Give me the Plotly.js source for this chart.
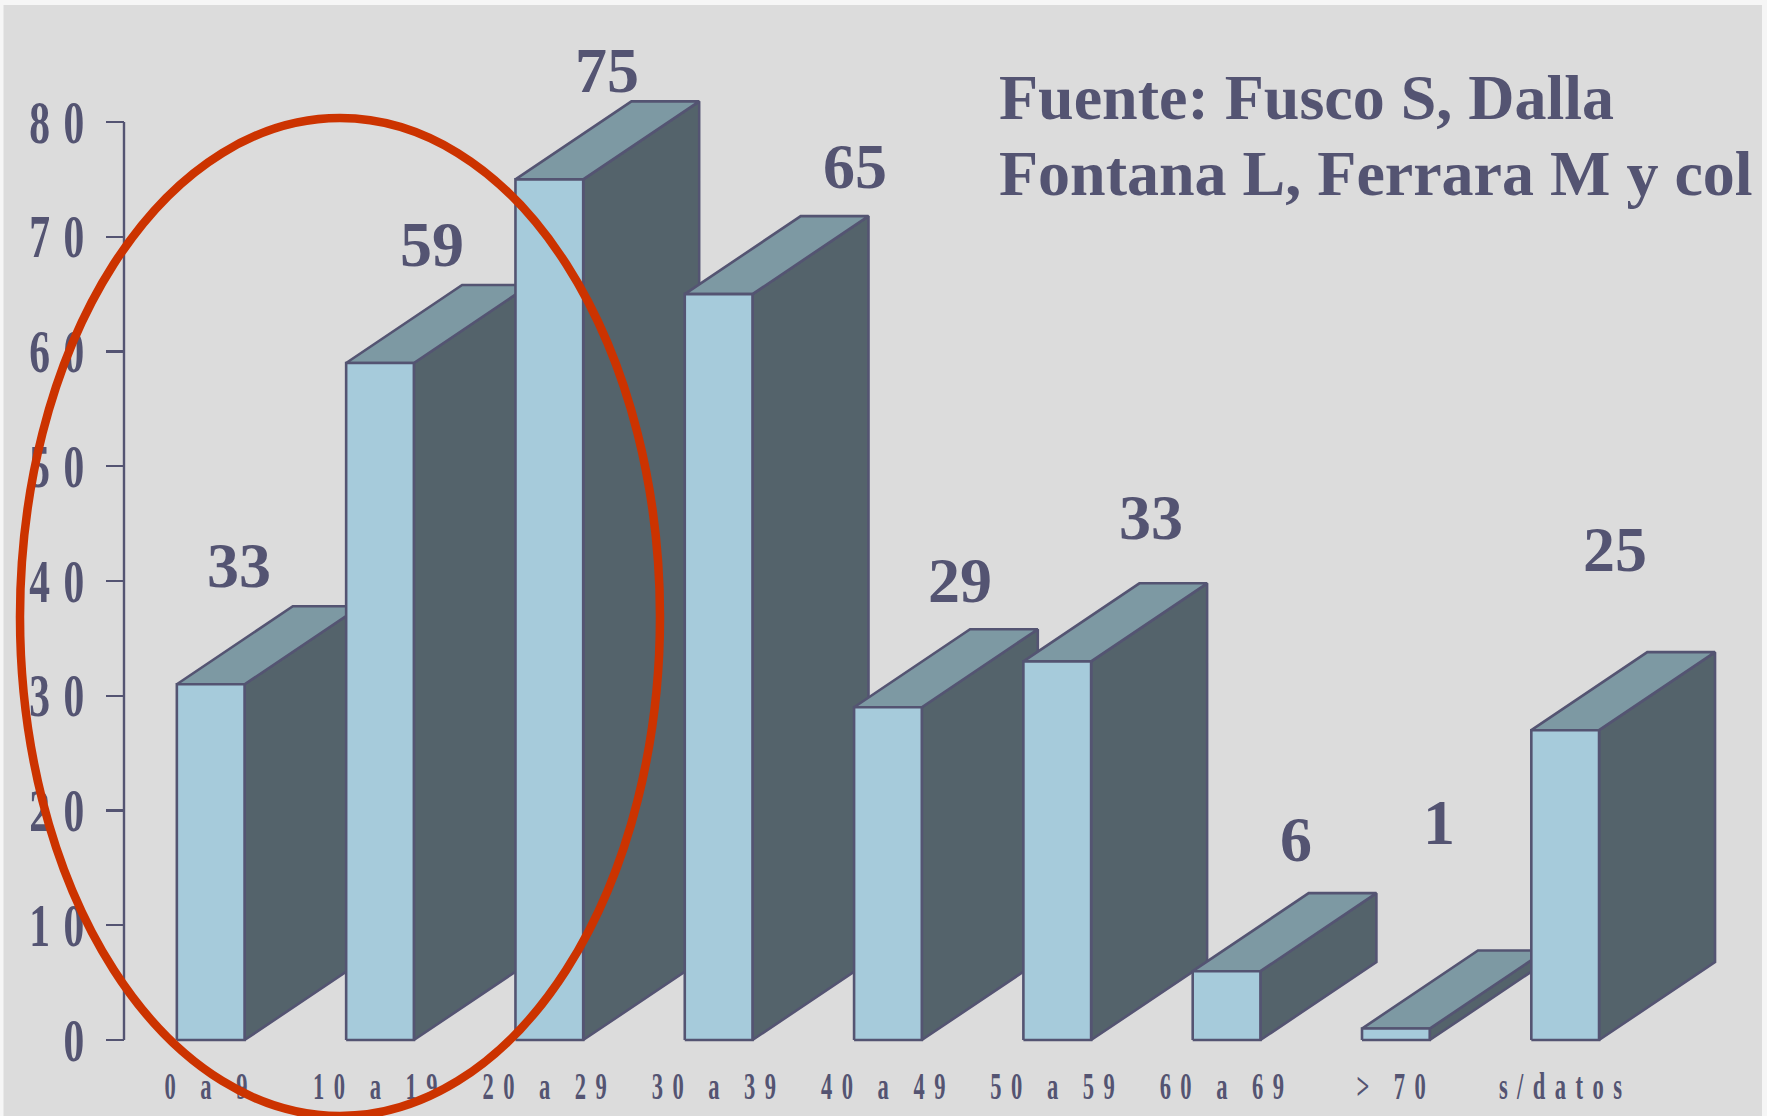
<!DOCTYPE html>
<html>
<head>
<meta charset="utf-8">
<script src="https://cdn.plot.ly/plotly-3.0.1.min.js"></script>
<style>html,body{margin:0;padding:0;background:#f6f6f6;overflow:hidden}#chart{width:1767px;height:1116px}</style>
</head>
<body>
<div id="chart"></div>
<script>
// ---- data ----
const categories = ["0 a 9", "10 a 19", "20 a 29", "30 a 39", "40 a 49", "50 a 59", "60 a 69", "> 70", "s/datos"];
const barHeights = [31, 59, 75, 65, 29, 33, 6, 1, 27];
const barLabels = ["33", "59", "75", "65", "29", "33", "6", "1", "25"];
const yTicks = [0, 10, 20, 30, 40, 50, 60, 70, 80];

// ---- placement of the hand-set value labels (axis units) ----
const labelX = [0.167, 1.305, 2.343, 3.806, 4.425, 5.552, 6.41, 7.256, 8.295];
const labelY = [41.35, 69.3, 84.45, 76.1, 40.05, 45.55, 17.5, 18.95, 42.75];

// ---- style ----
const INK = "#545472", FRONT = "#a6cbdb", TOP = "#7d99a3", SIDE = "#54636b", BG = "#dcdcdc", RED = "#cc3300";
const SERIF = "Liberation Serif";
const halfW = 0.2, depthX = 0.685, depthY = 6.8;
const W = 1767, H = 1116;

function face(xs, ys, color) {
  return {type: "scatter", mode: "lines", x: xs, y: ys, fill: "toself", fillcolor: color,
    line: {color: INK, width: 2.6}, hoverinfo: "skip", showlegend: false};
}
const traces = [];
barHeights.forEach((h, i) => {
  const l = i - halfW, r = i + halfW;
  traces.push(face([r, r + depthX, r + depthX, r, r], [0, depthY, h + depthY, h, 0], SIDE));
  traces.push(face([l, r, r + depthX, l + depthX, l], [h, h, h + depthY, h + depthY, h], TOP));
  traces.push(face([l, r, r, l, l], [0, 0, h, h, 0], FRONT));
});

const annotations = barLabels.map((t, i) => ({
  text: t, x: labelX[i], y: labelY[i], xref: "x", yref: "y", xanchor: "center", yanchor: "middle",
  showarrow: false, font: {family: SERIF, size: 64, color: INK, weight: "bold"}
}));
[["Fuente: Fusco S, Dalla", 118], ["Fontana L, Ferrara M y col", 194]].forEach(([t, base]) => {
  annotations.push({text: t, x: 998 / W, y: 1 - (base + 16) / H, xref: "paper", yref: "paper",
    xanchor: "left", yanchor: "bottom", showarrow: false, borderpad: 0,
    font: {family: SERIF, size: 64, color: INK, weight: "bold"}});
});

const layout = {
  width: W, height: H, margin: {l: 0, r: 0, t: 0, b: 0}, autosize: false,
  paper_bgcolor: "#f6f6f6", plot_bgcolor: "rgba(0,0,0,0)", showlegend: false,
  xaxis: {range: [-1.2445, 9.192], tickmode: "array", tickvals: categories.map((c, i) => i), ticktext: categories,
    anchor: "free", position: (H - 1040) / H, showline: false, showgrid: false, zeroline: false, ticks: "",
    ticklabelstandoff: 21, tickangle: 0, tickfont: {family: SERIF, size: 37, color: INK, weight: "bold"}},
  yaxis: {range: [-6.62, 90.63], tickmode: "array", tickvals: yTicks, ticktext: yTicks.map(String),
    anchor: "free", position: 124 / W, showline: false, showgrid: false, zeroline: false,
    ticks: "outside", ticklen: 18, tickwidth: 2.4, tickcolor: INK, ticklabelstandoff: 8,
    tickfont: {family: SERIF, size: 62, color: INK, weight: "bold"}},
  shapes: [
    {type: "rect", layer: "below", xref: "paper", yref: "paper", x0: 3.5 / W, x1: 1762 / W, y0: 0, y1: 1 - 5 / H,
      fillcolor: BG, line: {width: 0}},
    {type: "line", layer: "below", xref: "paper", yref: "y", x0: 124 / W, x1: 124 / W, y0: 0, y1: 80,
      line: {color: INK, width: 2.4}},
    {type: "circle", layer: "above", xref: "paper", yref: "paper", x0: 20 / W, x1: 660 / W,
      y0: 1 - 1116 / H, y1: 1 - 118 / H, line: {color: RED, width: 8.5}, fillcolor: "rgba(0,0,0,0)"}
  ],
  annotations: annotations
};

function condense(selector, sx, spacing, dx, dy) {
  document.querySelectorAll(selector).forEach(t => {
    t.style.letterSpacing = spacing + "px";
    const cx = parseFloat(t.getAttribute("x")) || 0;
    const old = t.getAttribute("transform") || "";
    t.setAttribute("transform", `translate(${dx},${dy}) ${old} translate(${cx},0) scale(${sx},1) translate(${-cx},0)`);
  });
}
Plotly.newPlot("chart", traces, layout, {displayModeBar: false, staticPlot: true, responsive: false}).then(() => {
  condense(".xtick text", 0.61, 15.5, 0, 0);
  condense(".ytick text", 0.67, 20, 12, -1);
});
</script>
</body>
</html>
